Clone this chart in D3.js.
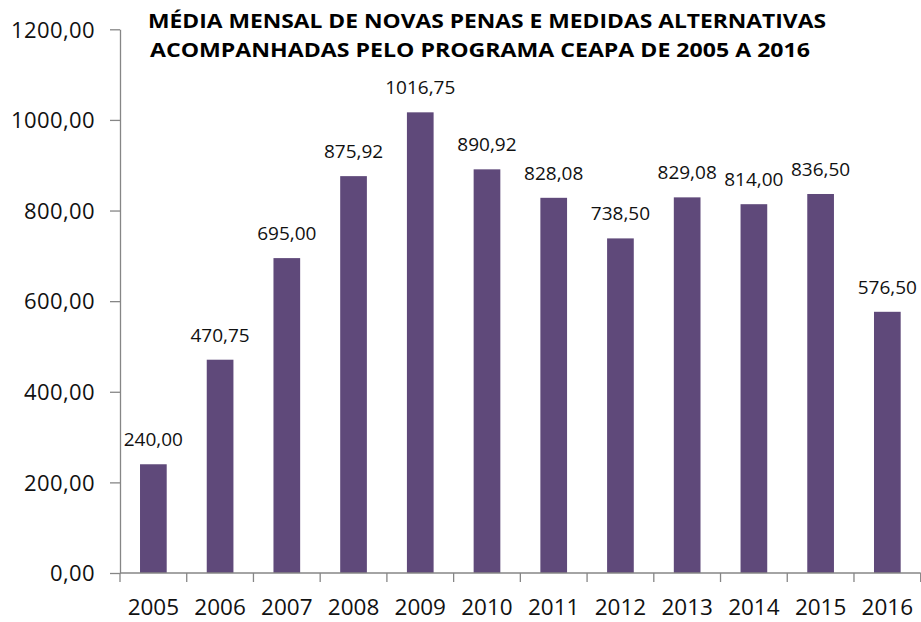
<!DOCTYPE html>
<html>
<head>
<meta charset="utf-8">
<script src="https://cdn.jsdelivr.net/npm/d3@7"></script>
<style>
  html, body { margin: 0; padding: 0; background: #ffffff; }
  svg { display: block; }
</style>
</head>
<body>
<script>
const years = ["2005","2006","2007","2008","2009","2010","2011","2012","2013","2014","2015","2016"];
const values = [240.00, 470.75, 695.00, 875.92, 1016.75, 890.92, 828.08, 738.50, 829.08, 814.00, 836.50, 576.50];
const yTicks = [0, 200, 400, 600, 800, 1000, 1200];
const titleLines = [
  "MÉDIA MENSAL DE NOVAS PENAS E MEDIDAS ALTERNATIVAS",
  "ACOMPANHADAS PELO PROGRAMA CEAPA DE 2005 A 2016"
];

const W = 921, H = 622;
const plotLeft = 120, plotRight = 920.7, plotTop = 29.3, plotBottom = 573;
const fmt = v => d3.format(".2f")(v).replace(".", ",");

const svg = d3.select("body").append("svg").attr("width", W).attr("height", H);

const x = d3.scaleBand().domain(years).range([plotLeft, plotRight]).paddingInner(0.6).paddingOuter(0.3);
const y = d3.scaleLinear().domain([0, 1200]).range([plotBottom, plotTop]);

const font = "'Open Sans', 'Noto Sans', sans-serif";
const textColor = "#111111";
const axisColor = "#868686";

// bars
svg.append("g").selectAll("rect").data(values).join("rect")
  .attr("x", (d, i) => x(years[i]))
  .attr("y", d => y(d))
  .attr("width", x.bandwidth())
  .attr("height", d => y(0) - y(d))
  .attr("fill", "#5F497A");

// value labels
svg.append("g").selectAll("text").data(values).join("text")
  .attr("x", (d, i) => x(years[i]) + x.bandwidth() / 2)
  .attr("y", d => y(d) - 18)
  .attr("text-anchor", "middle")
  .attr("font-family", font)
  .attr("font-size", 19)
  .attr("fill", textColor)
  .text(d => fmt(d));

// y axis
const yAxis = svg.append("g").attr("transform", `translate(${plotLeft},0)`)
  .call(d3.axisLeft(y).tickValues(yTicks).tickFormat(fmt).tickSize(10).tickSizeOuter(0).tickPadding(15));
yAxis.select(".domain").attr("stroke", axisColor).attr("stroke-width", 1.3);
yAxis.selectAll(".tick line").attr("stroke", axisColor).attr("stroke-width", 1.3);
yAxis.selectAll(".tick text")
  .attr("font-family", font).attr("font-size", 22).attr("fill", textColor)
  .attr("letter-spacing", "0.4px")
  .attr("dy", "0.35em");

// x axis: boundary ticks between bands
const xAxisG = svg.append("g");
xAxisG.append("line")
  .attr("x1", plotLeft).attr("x2", plotRight)
  .attr("y1", plotBottom).attr("y2", plotBottom)
  .attr("stroke", axisColor).attr("stroke-width", 1.3);
const step = x.step();
const boundaries = years.map(yr => x(yr) - (step - x.bandwidth()) / 2);
xAxisG.selectAll("line.tk").data(boundaries.concat([plotRight])).join("line")
  .attr("class", "tk")
  .attr("x1", d => d).attr("x2", d => d)
  .attr("y1", plotBottom).attr("y2", plotBottom + 9)
  .attr("stroke", axisColor).attr("stroke-width", 1.3);
xAxisG.selectAll("text").data(years).join("text")
  .attr("x", d => x(d) + x.bandwidth() / 2)
  .attr("y", 615)
  .attr("text-anchor", "middle")
  .attr("font-family", font)
  .attr("font-size", 22.5)
  .attr("fill", textColor)
  .text(d => d);

// title
const titleX = [148, 150];
const titleW = [678, 660];
const titleY = [28, 57];
svg.append("g").selectAll("text").data(titleLines).join("text")
  .attr("x", (d, i) => titleX[i])
  .attr("y", (d, i) => titleY[i])
  .attr("font-family", font)
  .attr("font-weight", "bold")
  .attr("font-size", 19.5)
  .attr("fill", "#000")
  .attr("textLength", (d, i) => titleW[i])
  .attr("lengthAdjust", "spacingAndGlyphs")
  .text(d => d);
</script>
</body>
</html>
